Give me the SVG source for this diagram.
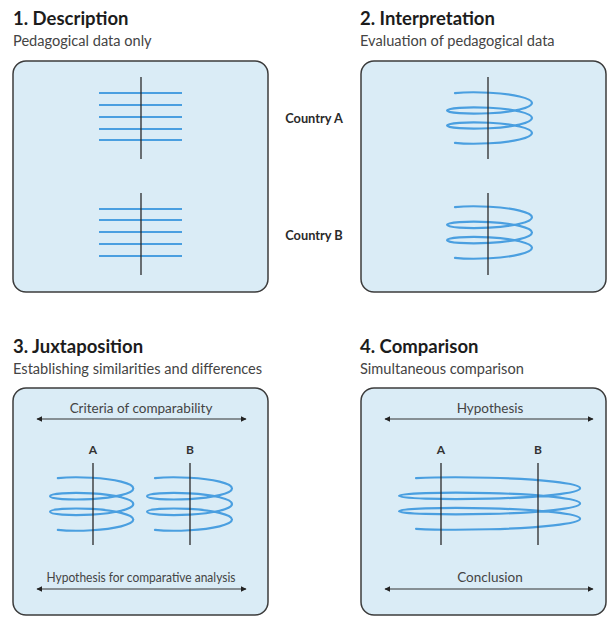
<svg xmlns="http://www.w3.org/2000/svg" xmlns:xlink="http://www.w3.org/1999/xlink" width="608" height="617" viewBox="0 0 608 617">
<style>
  .title { font-family: Lato, "Open Sans", sans-serif; font-weight: bold; font-size: 18.5px; fill: #1c1c1c; }
  .sub { font-family: Lato, "Open Sans", sans-serif; font-size: 14.6px; fill: #444; }
  .lab { font-family: Lato, "Open Sans", sans-serif; font-size: 13.5px; fill: #444; }
  .country { font-family: Lato, "Open Sans", sans-serif; font-weight: bold; font-size: 12.8px; fill: #2a2a2a; }
  .ab { font-family: Lato, "Open Sans", sans-serif; font-weight: bold; font-size: 12px; fill: #333; }
  .box { fill: #daecf6; stroke: #3c3c3c; stroke-width: 1.5; }
  .axis { stroke: #2a2a2a; stroke-width: 1.3; fill: none; }
  .blue { stroke: #4a9fe0; stroke-width: 2.2; fill: none; }
  .arrow { stroke: #333; stroke-width: 1.2; fill: none; marker-start: url(#ah); marker-end: url(#ah); }
</style>
<defs>
  <marker id="ah" viewBox="0 0 10 10" refX="9" refY="5" markerWidth="6" markerHeight="6" markerUnits="userSpaceOnUse" orient="auto-start-reverse">
    <path d="M0,0 L10,5 L0,10 Z" fill="#222"/>
  </marker>
  <path id="helix" class="blue" vector-effect="non-scaling-stroke" stroke-linecap="round" d="M8,0.19 C15.8,-0.7 29.2,-1 42.5,-0.25 C65.97,1 85,5.16 85,10 C85,14.84 65.97,19 42.5,20.25 C19.03,21.5 0,19.84 0,17.5 C0,15.16 19.03,13.5 42.5,14.75 C65.97,16 85,20.16 85,25 C85,29.84 65.97,34 42.5,35.25 C19.03,36.5 0,34.84 0,32.5 C0,30.16 19.03,28.5 42.5,29.75 C65.97,31 85,35.16 85,40 C85,44.84 65.97,49 42.5,50.25 C29.2,51 15.83,50.7 8,49.8"/>
</defs>
<rect width="608" height="617" fill="#ffffff"/>

<g id="panel1">
  <text class="title" x="13" y="25">1. Description</text>
  <text class="sub" x="13" y="46">Pedagogical data only</text>
  <rect class="box" x="13" y="61" width="255" height="231" rx="13"/>
  <g class="blue">
    <line x1="99" y1="93" x2="182" y2="93"/>
    <line x1="99" y1="105" x2="182" y2="105"/>
    <line x1="99" y1="117" x2="182" y2="117"/>
    <line x1="99" y1="129" x2="182" y2="129"/>
    <line x1="99" y1="140" x2="182" y2="140"/>
    <line x1="99" y1="209" x2="182" y2="209"/>
    <line x1="99" y1="220" x2="182" y2="220"/>
    <line x1="99" y1="232" x2="182" y2="232"/>
    <line x1="99" y1="244" x2="182" y2="244"/>
    <line x1="99" y1="256" x2="182" y2="256"/>
  </g>
  <line class="axis" x1="141" y1="77" x2="141" y2="159"/>
  <line class="axis" x1="141" y1="193" x2="141" y2="275"/>
</g>

<g id="countries">
  <text class="country" x="314" y="123" text-anchor="middle">Country A</text>
  <text class="country" x="314" y="240" text-anchor="middle">Country B</text>
</g>

<g id="panel2">
  <text class="title" x="360" y="25">2. Interpretation</text>
  <text class="sub" x="360" y="46">Evaluation of pedagogical data</text>
  <rect class="box" x="361" y="61" width="245" height="231" rx="13"/>
  <use xlink:href="#helix" href="#helix" transform="translate(447,93)"/>
  <use xlink:href="#helix" href="#helix" transform="translate(447,207) scale(1,1.02)"/>
  <line class="axis" x1="488" y1="77" x2="488" y2="159"/>
  <line class="axis" x1="488" y1="193" x2="488" y2="275"/>
</g>

<g id="panel3">
  <text class="title" x="13" y="353">3. Juxtaposition</text>
  <text class="sub" x="13" y="374">Establishing similarities and differences</text>
  <rect class="box" x="13" y="388" width="255" height="227" rx="13"/>
  <text class="lab" x="141" y="413" text-anchor="middle">Criteria of comparability</text>
  <text class="ab" x="93" y="454" text-anchor="middle">A</text>
  <text class="ab" x="190" y="454" text-anchor="middle">B</text>
  <use xlink:href="#helix" href="#helix" transform="translate(50,478) scale(0.98,1.04)"/>
  <use xlink:href="#helix" href="#helix" transform="translate(147,478) scale(1,1.04)"/>
  <line class="axis" x1="93" y1="463" x2="93" y2="545"/>
  <line class="axis" x1="190" y1="463" x2="190" y2="545"/>
  <text class="lab" x="141" y="582" text-anchor="middle" textLength="189" lengthAdjust="spacingAndGlyphs">Hypothesis for comparative analysis</text>
</g>

<g id="panel4">
  <text class="title" x="360" y="353">4. Comparison</text>
  <text class="sub" x="360" y="374">Simultaneous comparison</text>
  <rect class="box" x="361" y="388" width="245" height="227" rx="13"/>
  <text class="lab" x="490" y="413" text-anchor="middle">Hypothesis</text>
  <text class="ab" x="441" y="454" text-anchor="middle">A</text>
  <text class="ab" x="538" y="454" text-anchor="middle">B</text>
  <use xlink:href="#helix" href="#helix" transform="translate(399,478) scale(2.13,1.02)"/>
  <line class="axis" x1="441" y1="463" x2="441" y2="545"/>
  <line class="axis" x1="538" y1="463" x2="538" y2="545"/>
  <text class="lab" x="490" y="582" text-anchor="middle">Conclusion</text>
</g>

<g id="connectors">
  <line class="arrow" x1="37" y1="419" x2="246" y2="419"/>
  <line class="arrow" x1="37" y1="589" x2="246" y2="589"/>
  <line class="arrow" x1="385" y1="419" x2="593" y2="419"/>
  <line class="arrow" x1="385" y1="589" x2="593" y2="589"/>
</g>
</svg>
